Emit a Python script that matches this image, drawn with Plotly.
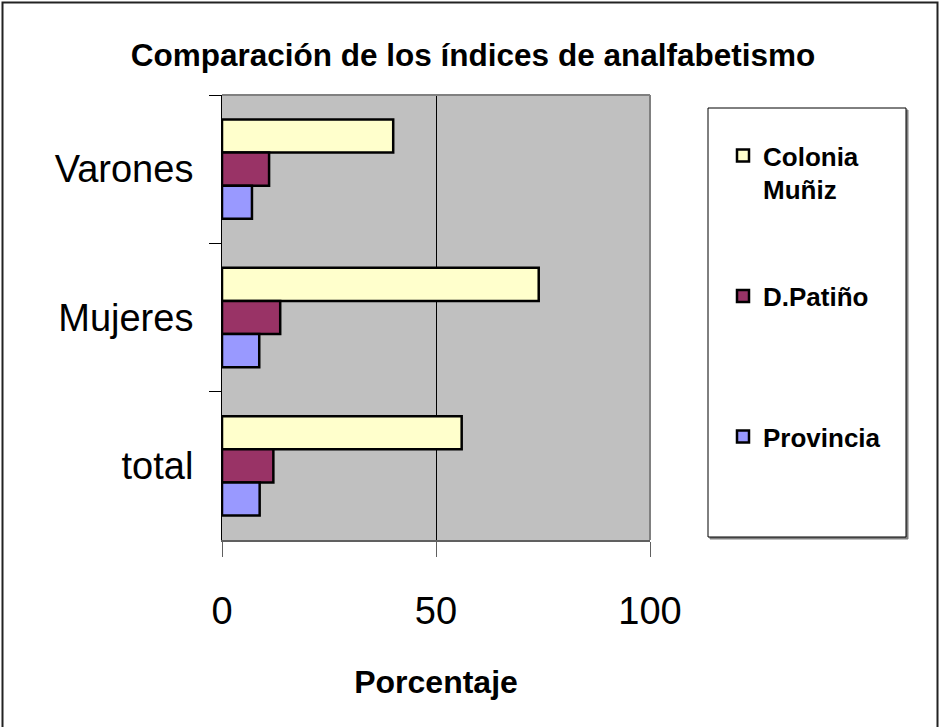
import plotly.graph_objects as go

categories = ["Varones", "Mujeres", "total"]
series_names = ["Colonia<br>Muñiz", "D.Patiño<br> ", "Provincia<br> "]
colonia = [40, 74, 56]
patino = [11, 13.6, 12]
provincia = [7, 8.7, 8.8]
x_ticks = [0, 50, 100]

colors = ["#FFFFCC", "#993366", "#9999FF"]
values = [colonia, patino, provincia]

W, H = 939, 727
L = 222
T = 95
R = W - 650
B = H - 540
PW, PH = W - L - R, H - T - B


def px_x(p):
    return (p - L) / PW


def px_y(p):
    return (H - B - p) / PH


FONT = "Liberation Sans, Arial, sans-serif"

fig = go.Figure()
for i, (name, vals, col) in enumerate(zip(series_names, values, colors)):
    fig.add_trace(go.Bar(
        y=categories, x=vals, name=name, orientation="h",
        marker=dict(color=col, line=dict(color="black", width=2.5)),
        legendgroup=f"g{i}",
    ))

shapes = [
    # outer frame
    dict(type="rect", xref="paper", yref="paper",
         x0=px_x(2.5), x1=px_x(937.5), y0=px_y(740), y1=px_y(2.5),
         line=dict(color="#222222", width=2), layer="below"),
    # plot area top/right border (gray)
    dict(type="line", xref="paper", yref="paper", x0=0, x1=1, y0=1, y1=1,
         line=dict(color="#808080", width=2)),
    dict(type="line", xref="paper", yref="paper", x0=1, x1=1, y0=0, y1=1,
         line=dict(color="#808080", width=2)),
    # legend box shadow
    dict(type="rect", xref="paper", yref="paper",
         x0=px_x(710), x1=px_x(908), y0=px_y(539), y1=px_y(110),
         line=dict(color="#808080", width=1), fillcolor="#808080", layer="below"),
    # legend box
    dict(type="rect", xref="paper", yref="paper",
         x0=px_x(708), x1=px_x(906), y0=px_y(537), y1=px_y(108),
         line=dict(color="black", width=1), fillcolor="white", layer="below"),
]

fig.update_layout(
    width=W, height=H,
    margin=dict(l=L, r=R, t=T, b=B),
    paper_bgcolor="white",
    plot_bgcolor="#C0C0C0",
    barmode="group",
    bargap=0.33,
    bargroupgap=0,
    font=dict(family=FONT, color="black"),
    title=dict(text="Comparación de los índices de analfabetismo",
               x=473 / W, xanchor="center",
               y=1 - 55 / H, yanchor="middle",
               font=dict(size=31.5, family=FONT, weight="bold", color="black")),
    legend=dict(x=px_x(723), xanchor="left", y=px_y(132), yanchor="top",
                bgcolor="rgba(0,0,0,0)", borderwidth=0,
                font=dict(size=26, family=FONT, weight="bold", color="black"),
                valign="top", tracegroupgap=70, traceorder="grouped"),
    shapes=shapes,
    xaxis=dict(range=[0, 100], tickvals=x_ticks, ticktext=[str(v) for v in x_ticks],
               showgrid=True, gridcolor="black", gridwidth=1, zeroline=False,
               showline=True, linecolor="#606060", linewidth=2,
               ticks="outside", ticklen=15, tickcolor="#606060", tickwidth=1,
               tickfont=dict(size=38, family=FONT), ticklabelstandoff=21,
               title=dict(text="Porcentaje", standoff=40,
                          font=dict(size=32, family=FONT, weight="bold"))),
    yaxis=dict(categoryorder="array", categoryarray=categories,
               autorange="reversed", showgrid=False, zeroline=False,
               showline=True, linecolor="black", linewidth=1,
               ticks="outside", ticklen=12, tickcolor="black", tickson="boundaries",
               tickfont=dict(size=38, family=FONT), ticklabelstandoff=20),
)

fig.write_html("out.html",
               config={"displayModeBar": False},
               post_script="document.body.style.margin='0px';"
                           "document.body.style.overflow='hidden';")
